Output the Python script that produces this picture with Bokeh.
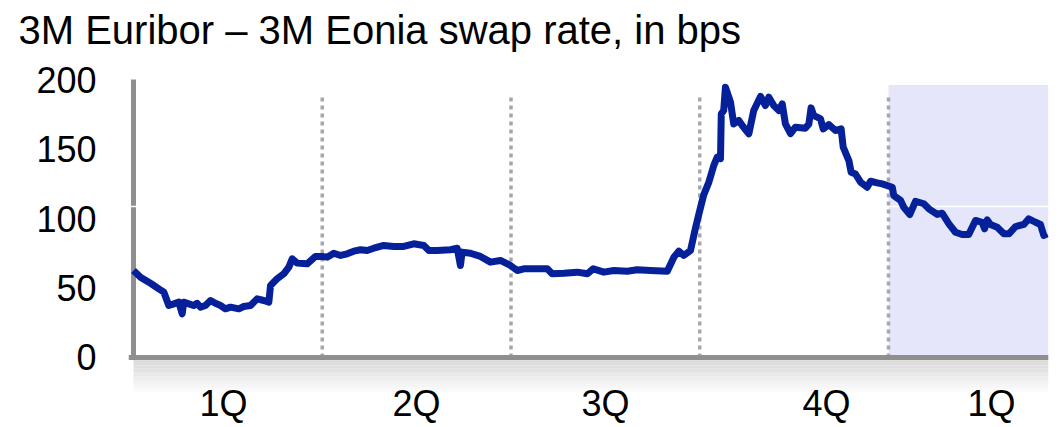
from bokeh.plotting import figure
from bokeh.models import Range1d, FixedTicker, Title
from bokeh.embed import file_html
from bokeh.resources import INLINE

title_text = "3M Euribor – 3M Eonia swap rate, in bps"
quarter_labels = ["1Q", "2Q", "3Q", "4Q", "1Q"]
quarter_label_pos = [0.477, 1.499, 2.501, 3.672, 4.546]
quarter_bounds = [1, 2, 3, 4]
shade_start = 4.0
y_ticks = [0, 50, 100, 150, 200]

# time in quarters since start of the chart
t = [0.000, 0.037, 0.081, 0.108, 0.134, 0.161, 0.187, 0.214, 0.240, 0.258,
     0.266, 0.293, 0.319, 0.337, 0.355, 0.381, 0.408, 0.434, 0.461, 0.487,
     0.514, 0.558, 0.584, 0.620, 0.655, 0.690, 0.717, 0.726, 0.761, 0.796,
     0.823, 0.841, 0.867, 0.920, 0.964, 1.000, 1.026, 1.061, 1.097, 1.132,
     1.167, 1.203, 1.238, 1.273, 1.326, 1.379, 1.432, 1.485, 1.538, 1.565,
     1.609, 1.679, 1.715, 1.732, 1.741, 1.785, 1.838, 1.891, 1.944, 1.997,
     2.033, 2.068, 2.139, 2.192, 2.218, 2.280, 2.351, 2.404, 2.436, 2.492,
     2.545, 2.616, 2.668, 2.739, 2.828, 2.863, 2.889, 2.915, 2.951, 2.977,
     2.995, 3.021, 3.048, 3.074, 3.092, 3.110, 3.114, 3.127, 3.136, 3.163,
     3.180, 3.207, 3.225, 3.260, 3.286, 3.322, 3.348, 3.366, 3.392, 3.419,
     3.437, 3.454, 3.481, 3.507, 3.560, 3.578, 3.590, 3.604, 3.622, 3.640,
     3.654, 3.684, 3.719, 3.749, 3.760, 3.790, 3.802, 3.825, 3.852, 3.887,
     3.905, 3.940, 3.967, 4.020, 4.028, 4.064, 4.081, 4.113, 4.143, 4.187,
     4.214, 4.258, 4.284, 4.320, 4.355, 4.390, 4.425, 4.461, 4.496, 4.509,
     4.523, 4.540, 4.576, 4.611, 4.638, 4.673, 4.717, 4.743, 4.779, 4.805,
     4.823, 4.841]

spread_bps = [62.6, 57.8, 54.2, 51.8, 49.4, 47.0, 37.4, 38.6, 39.8, 31.4,
              39.8, 38.6, 37.4, 39.0, 36.2, 37.4, 41.0, 39.0, 37.4, 35.0,
              36.2, 35.0, 36.7, 37.4, 42.2, 41.0, 39.8, 51.8, 56.6, 60.2,
              65.0, 71.0, 67.9, 67.4, 72.7, 72.7, 72.2, 75.0, 73.4, 74.6,
              76.5, 77.5, 77.0, 78.6, 80.6, 79.9, 79.9, 81.8, 80.6, 77.0,
              77.0, 77.5, 78.6, 66.2, 75.8, 75.0, 72.7, 68.6, 69.8, 66.2,
              62.6, 63.8, 63.8, 63.8, 60.2, 60.6, 61.4, 60.2, 63.8, 61.4,
              62.6, 62.1, 63.1, 62.6, 62.1, 72.2, 76.5, 73.4, 77.0, 93.0,
              103.0, 117.0, 126.0, 138.0, 144.0, 143.0, 175.3, 177.7, 194.5, 183.7,
              168.0, 170.5, 166.9, 161.0, 177.7, 187.8, 181.3, 187.3, 181.3, 177.7,
              182.5, 168.0, 161.0, 165.7, 165.0, 168.0, 179.6, 174.0, 172.9, 171.7,
              164.5, 167.6, 163.3, 164.5, 151.3, 141.7, 133.3, 132.0, 126.1, 122.5,
              126.8, 125.6, 124.9, 122.5, 116.5, 113.0, 108.1, 102.9, 112.4, 110.6,
              107.0, 102.9, 103.8, 96.2, 90.1, 88.5, 88.5, 98.6, 97.3, 92.6,
              99.0, 95.7, 93.7, 89.0, 89.0, 94.2, 95.7, 99.8, 97.3, 95.7,
              87.8, 89.0]

X_START, X_END = -0.0265, 4.8477
Y_START, Y_END = -50.36, 200.72
AXIS_GREY = "#8f8f8f"
FONT = "Liberation Sans"

p = figure(width=1062, height=427, output_backend="svg", toolbar_location=None,
           x_range=Range1d(X_START, X_END), y_range=Range1d(Y_START, Y_END),
           min_border_left=128, min_border_right=14, min_border_top=78,
           min_border_bottom=0)
p.outline_line_color = None
p.grid.visible = False
p.background_fill_color = "white"
p.border_fill_color = "white"

# spacer between plot frame and title
p.add_layout(Title(text=" ", text_font_size="1px", standoff=24), "above")

# title
p.title.text = title_text
p.title.text_font = FONT
p.title.text_font_size = "40px"
p.title.text_font_style = "normal"
p.title.text_color = "black"
p.title.align = "left"
p.title.vertical_align = "bottom"
p.title.offset = -110
p.title.standoff = 0

# shaded forecast area
p.quad(left=[shade_start], right=[X_END], bottom=[0], top=[196],
       fill_color="#e6e6fa", line_color=None)

# grey gradient strip below the x axis
n_band = 14
band_h = 27.0 / n_band
for i in range(n_band):
    c = int(214 + (255 - 214) * i / (n_band - 1))
    p.quad(left=[0], right=[X_END], top=[-i * band_h], bottom=[-(i + 1) * band_h],
           fill_color=f"#{c:02x}{c:02x}{c:02x}", line_color=None)

# y axis line (drawn only over 0..200)
p.segment(x0=[0], y0=[y_ticks[0]], x1=[0], y1=[y_ticks[-1]],
          line_color=AXIS_GREY, line_width=5)

# thin white line artefact
p.segment(x0=[X_START], y0=[108.6], x1=[X_END], y1=[108.6],
          line_color="white", line_width=1.5)

# dotted quarter separators
p.segment(x0=quarter_bounds, y0=[0] * 4, x1=quarter_bounds, y1=[188] * 4,
          line_color="#a6a6ae", line_width=3.5, line_dash="4 4")

# data line
p.line(t, spread_bps, line_color="#06209a", line_width=7, line_join="round")

# y axis
yax = p.yaxis[0]
yax.ticker = FixedTicker(ticks=y_ticks)
yax.axis_line_color = None
yax.major_tick_line_color = None
yax.minor_tick_line_color = None
yax.major_label_standoff = 26
yax.major_label_text_font = FONT
yax.major_label_text_font_size = "36px"
yax.major_label_text_color = "black"

# x axis at y = 0
xax = p.xaxis[0]
xax.fixed_location = 0
xax.ticker = FixedTicker(ticks=quarter_label_pos)
xax.major_label_overrides = {pos: lab for pos, lab in zip(quarter_label_pos, quarter_labels)}
xax.axis_line_color = AXIS_GREY
xax.axis_line_width = 5
xax.major_tick_line_color = None
xax.minor_tick_line_color = None
xax.major_label_standoff = 20
xax.major_label_text_font = FONT
xax.major_label_text_font_size = "36px"
xax.major_label_text_color = "black"

open("out.html", "w").write(file_html(p, INLINE))
